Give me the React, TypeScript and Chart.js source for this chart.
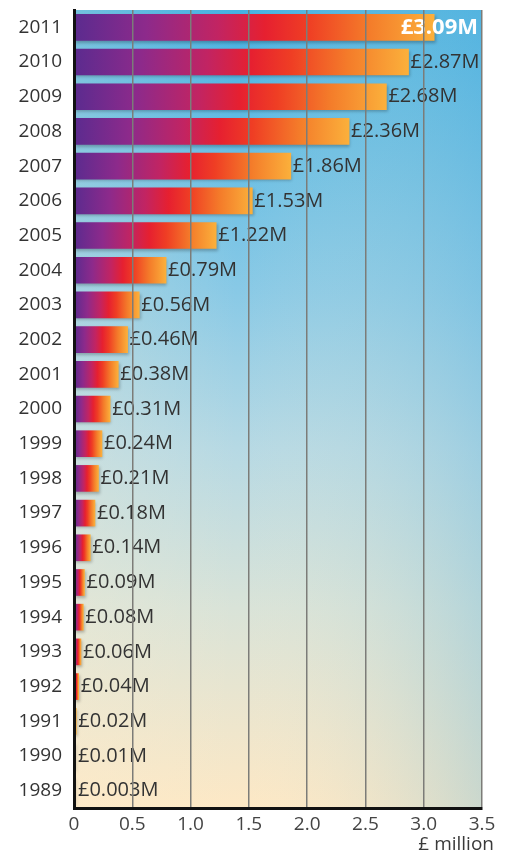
import React, { useEffect, useRef } from "react";
import { Chart, registerables } from "chart.js";

Chart.register(...registerables);

const years = ["2011","2010","2009","2008","2007","2006","2005","2004","2003","2002","2001","2000","1999","1998","1997","1996","1995","1994","1993","1992","1991","1990","1989"];
const values = [3.09,2.87,2.68,2.36,1.86,1.53,1.22,0.79,0.56,0.46,0.38,0.31,0.24,0.21,0.18,0.14,0.09,0.08,0.06,0.04,0.02,0.01,0.003];
const valueLabels = ["£3.09M","£2.87M","£2.68M","£2.36M","£1.86M","£1.53M","£1.22M","£0.79M","£0.56M","£0.46M","£0.38M","£0.31M","£0.24M","£0.21M","£0.18M","£0.14M","£0.09M","£0.08M","£0.06M","£0.04M","£0.02M","£0.01M","£0.003M"];
const xTicks = [0, 0.5, 1.0, 1.5, 2.0, 2.5, 3.0, 3.5];
const axisTitle = "£ million";

const FONT = "'Open Sans', 'Noto Sans', sans-serif";

export default function App() {
  const ref = useRef<HTMLCanvasElement>(null);
  useEffect(() => {
    const canvas = ref.current!;
    const bgPlugin = {
      id: "bg",
      beforeDraw(chart: any) {
        const { ctx, chartArea: a } = chart;
        ctx.save();
        const g = ctx.createLinearGradient(0, a.top, 0, a.bottom);
        g.addColorStop(0, "#45b1e2");
        g.addColorStop(0.35, "#88c9e6");
        g.addColorStop(0.55, "#b6d9e4");
        g.addColorStop(0.75, "#d9e3d8");
        g.addColorStop(1, "#fde8c5");
        ctx.fillStyle = g;
        ctx.fillRect(a.left, a.top, a.right - a.left, a.bottom - a.top);
        const h = ctx.createLinearGradient(a.left, 0, a.right, 0);
        h.addColorStop(0, "rgba(255,240,210,0.25)");
        h.addColorStop(0.4, "rgba(255,240,210,0)");
        h.addColorStop(1, "rgba(110,185,220,0.35)");
        ctx.fillStyle = h;
        ctx.fillRect(a.left, a.top, a.right - a.left, a.bottom - a.top);
        ctx.restore();
      },
      beforeDatasetsDraw(chart: any) {
        const ctx = chart.ctx;
        ctx.save();
        ctx.shadowColor = "rgba(0,0,0,0.25)";
        ctx.shadowBlur = 3;
        ctx.shadowOffsetX = 1;
        ctx.shadowOffsetY = 2;
      },
      afterDatasetsDraw(chart: any) {
        const ctx = chart.ctx;
        ctx.restore();
        const meta = chart.getDatasetMeta(0);
        const a = chart.chartArea;
        ctx.save();
        ctx.textBaseline = "middle";
        meta.data.forEach((bar: any, i: number) => {
          const text = valueLabels[i];
          ctx.font = `20px ${FONT}`;
          const w = ctx.measureText(text).width;
          if (bar.x + 2 + w > a.right) {
            ctx.font = `bold 22px ${FONT}`;
            ctx.fillStyle = "#ffffff";
            ctx.textAlign = "right";
            ctx.fillText(text, a.right - 4, bar.y);
          } else {
            ctx.fillStyle = "#333333";
            ctx.textAlign = "left";
            ctx.fillText(text, Math.max(bar.x + 2, a.left + 4), bar.y);
          }
        });
        ctx.restore();
      },
      afterDraw(chart: any) {
        const ctx = chart.ctx;
        ctx.save();
        ctx.font = `19px ${FONT}`;
        ctx.fillStyle = "#3a3a3a";
        ctx.textAlign = "right";
        ctx.textBaseline = "middle";
        ctx.fillText(axisTitle, 494, 845);
        ctx.restore();
      },
    };

    const chart = new Chart(canvas, {
      type: "bar",
      data: {
        labels: years,
        datasets: [
          {
            data: values,
            barThickness: 26,
            borderWidth: 0,
            backgroundColor: (c: any) => {
              const chart = c.chart;
              const { ctx, chartArea, scales } = chart;
              if (!chartArea || !scales.x || c.type !== "data") return "#e8322a";
              const x0 = scales.x.getPixelForValue(0);
              let x1 = scales.x.getPixelForValue(c.raw);
              if (x1 - x0 < 2) x1 = x0 + 2;
              const g = ctx.createLinearGradient(x0, 0, x1, 0);
              g.addColorStop(0, "#5b2b8f");
              g.addColorStop(0.2, "#8d2a8b");
              g.addColorStop(0.4, "#c22462");
              g.addColorStop(0.53, "#e62030");
              g.addColorStop(0.65, "#ef3e24");
              g.addColorStop(0.82, "#f47c2a");
              g.addColorStop(1, "#fbb03b");
              return g;
            },
          },
        ],
      },
      options: {
        indexAxis: "y",
        responsive: false,
        animation: false,
        layout: { padding: { top: 10, right: 29, left: 0, bottom: 0 } },
        plugins: {
          legend: { display: false },
          tooltip: { enabled: false },
          title: { display: false },
        },
        scales: {
          x: {
            min: 0,
            max: 3.5,
            afterBuildTicks: (s: any) => {
              s.ticks = xTicks.map((v) => ({ value: v }));
            },
            afterFit: (s: any) => {
              s.height = 46;
              s.paddingLeft = 0;
              s.paddingRight = 0;
            },
            grid: { color: "#7c7c78", lineWidth: 1.5, drawTicks: false, z: 1 },
            border: { display: true, color: "#111111", width: 3, z: 2 },
            ticks: {
              padding: 5,
              color: "#444444",
              font: { family: FONT, size: 19 },
              callback: (v: any) => (v === 0 ? "0" : Number(v).toFixed(1)),
              maxRotation: 0,
            },
          },
          y: {
            afterFit: (s: any) => {
              s.width = 74;
              s.paddingTop = 0;
              s.paddingBottom = 0;
            },
            grid: { display: false, drawTicks: false },
            border: { display: true, color: "#111111", width: 3, z: 2 },
            ticks: {
              padding: 12,
              color: "#333333",
              font: { family: FONT, size: 19 },
            },
          },
        },
      },
      plugins: [bgPlugin],
    } as any);
    return () => chart.destroy();
  }, []);

  return (
    <div style={{ position: "fixed", left: 0, top: 0, width: 511, height: 854, background: "#fff" }}>
      <canvas ref={ref} width={511} height={854} style={{ display: "block" }} />
    </div>
  );
}
